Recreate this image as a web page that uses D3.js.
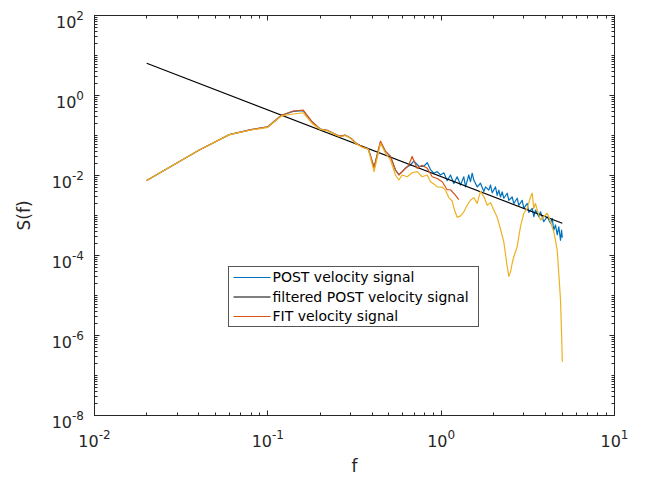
<!DOCTYPE html>
<html lang="en">
<head>
<meta charset="UTF-8">
<script src="https://d3js.org/d3.v7.min.js"></script>
<title>S(f)</title>
<style>
  body { margin: 0; background: #fff; }
  svg { display: block; font-family: "DejaVu Sans", sans-serif; }
</style>
</head>
<body>
<div id="chart"></div>
<script>
// [f, S(f)] pairs
const postSignal = [
  [0.02, 7.5e-3], [0.04, 4.3e-2], [0.06, 0.105], [0.08, 0.14], [0.10, 0.165],
  [0.12, 0.32], [0.14, 0.40], [0.16, 0.42], [0.18, 0.22], [0.20, 0.145],
  [0.22, 0.135], [0.24, 0.112], [0.26, 0.095], [0.28, 0.102], [0.30, 0.087],
  [0.32, 0.066], [0.35, 0.052], [0.38, 0.046], [0.41, 0.016], [0.447, 0.07],
  [0.477, 0.04], [0.51, 0.03], [0.545, 0.0137], [0.57, 0.0105], [0.596, 0.0125],
  [0.623, 0.0155], [0.665, 0.0183], [0.695, 0.023], [0.743, 0.017], [0.794, 0.017],
  [0.831, 0.021], [0.868, 0.014], [0.907, 0.0114], [0.949, 0.0125], [0.991, 0.0103],
  [1.036, 0.0117], [1.083, 0.0074], [1.132, 0.0103], [1.183, 0.0063], [1.237, 0.0093],
  [1.293, 0.0058], [1.351, 0.0093], [1.382, 0.0052], [1.443, 0.0103], [1.476, 0.0070],
  [1.51, 0.0114], [1.543, 0.0077], [1.614, 0.0052], [1.686, 0.0064], [1.762, 0.0040],
  [1.803, 0.0052], [1.883, 0.0043], [1.926, 0.0058], [1.97, 0.0037], [2.058, 0.0052],
  [2.105, 0.0032], [2.15, 0.0043], [2.199, 0.0029], [2.249, 0.0039], [2.298, 0.0027],
  [2.404, 0.0036], [2.456, 0.0024], [2.569, 0.0029], [2.624, 0.0020], [2.746, 0.0027],
  [2.805, 0.0018], [2.935, 0.0024], [2.997, 0.0015], [3.135, 0.0020], [3.203, 0.0012],
  [3.351, 0.0015], [3.423, 9.3e-4], [3.501, 1.37e-3], [3.658, 9.3e-4], [3.742, 1.24e-3],
  [3.909, 7.0e-4], [4.09, 9.3e-4], [4.273, 6.4e-4], [4.371, 8.5e-4], [4.465, 4.3e-4],
  [4.567, 5.8e-4], [4.671, 3.3e-4], [4.771, 5.2e-4], [4.881, 2.4e-4], [4.95, 4.3e-4],
  [5.0, 2.8e-4]
];

const filteredSignal = [[0.02, 6.4], [5.0, 6.4e-4]];

const fitSignal = [
  [0.02, 7.5e-3], [0.04, 4.3e-2], [0.06, 0.105], [0.08, 0.14], [0.10, 0.165],
  [0.12, 0.32], [0.14, 0.41], [0.16, 0.43], [0.18, 0.22], [0.20, 0.145],
  [0.22, 0.135], [0.24, 0.112], [0.26, 0.095], [0.28, 0.102], [0.30, 0.087],
  [0.32, 0.066], [0.35, 0.052], [0.38, 0.046], [0.41, 0.016], [0.447, 0.072],
  [0.477, 0.040], [0.51, 0.030], [0.545, 0.0137], [0.57, 0.0103], [0.609, 0.0137],
  [0.65, 0.018], [0.68, 0.030], [0.727, 0.0151], [0.777, 0.018], [0.831, 0.0151],
  [0.888, 0.0093], [0.949, 0.0084], [1.014, 0.0070], [1.083, 0.0044], [1.132, 0.0044],
  [1.21, 0.0032], [1.264, 0.0025]
];

// yellow trace, drawn but not listed in the legend
const extraSignal = [
  [0.02, 7.5e-3], [0.04, 4.3e-2], [0.06, 0.105], [0.08, 0.137], [0.10, 0.16],
  [0.12, 0.31], [0.14, 0.345], [0.16, 0.37], [0.18, 0.20], [0.20, 0.143],
  [0.22, 0.132], [0.24, 0.11], [0.26, 0.093], [0.28, 0.10], [0.30, 0.085],
  [0.32, 0.064], [0.35, 0.051], [0.38, 0.045], [0.41, 0.0125], [0.447, 0.064],
  [0.477, 0.036], [0.51, 0.0244], [0.545, 0.0103], [0.57, 0.0077], [0.596, 0.0103],
  [0.637, 0.0093], [0.68, 0.0117], [0.727, 0.0125], [0.777, 0.0093], [0.831, 0.0103],
  [0.868, 0.0070], [0.907, 0.0061], [0.949, 0.0052], [1.014, 0.0051], [1.059, 0.0043],
  [1.107, 0.0028], [1.158, 0.0023], [1.194, 0.00137], [1.237, 9.0e-4], [1.293, 9.8e-4],
  [1.351, 0.00124], [1.413, 0.0018], [1.476, 0.0024], [1.543, 0.0028], [1.614, 0.0020],
  [1.686, 0.0040], [1.762, 0.0030], [1.844, 0.0018], [1.926, 0.0021], [2.012, 0.00137],
  [2.105, 9.0e-4], [2.199, 4.6e-4], [2.298, 2.2e-4], [2.35, 1.1e-4], [2.404, 5.3e-5],
  [2.456, 3.0e-5], [2.512, 3.9e-5], [2.569, 6.4e-5], [2.624, 9.3e-5], [2.746, 1.66e-4],
  [2.805, 3.0e-4], [2.869, 5.3e-4], [2.997, 1.14e-3], [3.135, 1.5e-3], [3.276, 2.9e-3],
  [3.351, 3.6e-3], [3.423, 1.5e-3], [3.501, 2.0e-3], [3.581, 1.37e-3], [3.742, 7.7e-4],
  [3.909, 9.3e-4], [4.09, 1.14e-3], [4.273, 7.0e-4], [4.465, 3.9e-4], [4.567, 2.4e-4],
  [4.671, 1.37e-4], [4.771, 3.6e-5], [4.881, 7.7e-6], [4.95, 1.1e-6], [5.0, 2.2e-7]
];

const xTickExps = [-2, -1, 0, 1];
const yTickExps = [2, 0, -2, -4, -6, -8];
const legendLabels = ["POST velocity signal", "filtered POST velocity signal", "FIT velocity signal"];

const width = 646, height = 482;
const plotLeft = 94.5, plotRight = 614.5, plotTop = 15.5, plotBottom = 415.5;
const axisColor = "#262626";

const svg = d3.select("#chart").append("svg")
    .attr("width", width)
    .attr("height", height);

const x = d3.scaleLog().domain([0.01, 10]).range([plotLeft, plotRight]);
const y = d3.scaleLog().domain([1e-8, 1e2]).range([plotBottom, plotTop]);

svg.append("defs").append("clipPath").attr("id", "plotClip")
  .append("rect")
    .attr("x", plotLeft).attr("y", plotTop)
    .attr("width", plotRight - plotLeft).attr("height", plotBottom - plotTop);

// data lines
const line = d3.line().x(d => x(d[0])).y(d => y(d[1]));
const series = [
  {data: postSignal, color: "#0072BD"},
  {data: filteredSignal, color: "#000000"},
  {data: fitSignal, color: "#D95319"},
  {data: extraSignal, color: "#EDB120"}
];
svg.append("g").attr("clip-path", "url(#plotClip)")
  .selectAll("path")
  .data(series)
  .enter()
  .append("path")
    .attr("d", d => line(d.data))
    .attr("fill", "none")
    .attr("stroke", d => d.color)
    .attr("stroke-width", 1.2)
    .attr("stroke-linejoin", "round");

// ticks: major at labelled decades, minor at every k*10^n
const xMinor = [];
d3.range(-2, 1).forEach(e => d3.range(2, 10).forEach(k => xMinor.push(k * Math.pow(10, e))));
const xMajor = xTickExps.map(e => Math.pow(10, e));
const yMinor = [];
d3.range(-8, 2).forEach(e => d3.range(1, 10).forEach(k => {
  if (!(k === 1 && e % 2 === 0)) yMinor.push(k * Math.pow(10, e));
}));
const yMajor = yTickExps.map(e => Math.pow(10, e));

const ticks = svg.append("g").attr("stroke", axisColor).attr("stroke-width", 1);
function xTicks(vals, len) {
  vals.forEach(v => {
    const px = Math.round(x(v) - 0.5) + 0.5;
    ticks.append("line").attr("x1", px).attr("x2", px).attr("y1", plotBottom).attr("y2", plotBottom - len);
    ticks.append("line").attr("x1", px).attr("x2", px).attr("y1", plotTop).attr("y2", plotTop + len);
  });
}
function yTicks(vals, len) {
  vals.forEach(v => {
    const py = Math.round(y(v) - 0.5) + 0.5;
    ticks.append("line").attr("y1", py).attr("y2", py).attr("x1", plotLeft).attr("x2", plotLeft + len);
    ticks.append("line").attr("y1", py).attr("y2", py).attr("x1", plotRight).attr("x2", plotRight - len);
  });
}
xTicks(xMajor, 5); xTicks(xMinor, 3);
yTicks(yMajor, 5); yTicks(yMinor, 3);

svg.append("rect")
    .attr("x", plotLeft).attr("y", plotTop)
    .attr("width", plotRight - plotLeft).attr("height", plotBottom - plotTop)
    .attr("fill", "none")
    .attr("stroke", axisColor)
    .attr("stroke-width", 1);

// tick labels with superscript exponents
svg.selectAll(".xlab")
  .data(xTickExps)
  .enter()
  .append("text")
    .attr("class", "xlab")
    .attr("x", d => x(Math.pow(10, d)))
    .attr("y", 447)
    .attr("text-anchor", "middle")
    .attr("fill", axisColor)
    .style("font-size", "16px")
    .each(function (d) {
      const t = d3.select(this);
      t.append("tspan").text("10");
      t.append("tspan").attr("dy", -8).style("font-size", "12px").text(d);
    });

svg.selectAll(".ylab")
  .data(yTickExps)
  .enter()
  .append("text")
    .attr("class", "ylab")
    .attr("x", 84)
    .attr("y", d => y(Math.pow(10, d)) + 12)
    .attr("text-anchor", "end")
    .attr("fill", axisColor)
    .style("font-size", "16px")
    .each(function (d) {
      const t = d3.select(this);
      t.append("tspan").text("10");
      t.append("tspan").attr("dy", -8).style("font-size", "12px").text(d);
    });

// axis titles
svg.append("text")
    .attr("x", (plotLeft + plotRight) / 2)
    .attr("y", 472)
    .attr("text-anchor", "middle")
    .attr("fill", axisColor)
    .style("font-size", "17px")
    .text("f");

svg.append("text")
    .attr("transform", `translate(30, ${(plotTop + plotBottom) / 2}) rotate(-90)`)
    .attr("text-anchor", "middle")
    .attr("fill", axisColor)
    .style("font-size", "17px")
    .text("S(f)");

// legend
const legend = svg.append("g").attr("transform", "translate(228.5, 266.5)");
legend.append("rect")
    .attr("width", 250).attr("height", 60)
    .attr("fill", "#fff")
    .attr("stroke", "#555")
    .attr("stroke-width", 1);
legendLabels.forEach((label, i) => {
  const cy = 11 + i * 19.5;
  legend.append("line")
      .attr("x1", 5).attr("x2", 42)
      .attr("y1", cy).attr("y2", cy)
      .attr("stroke", series[i].color)
      .attr("stroke-width", 1.2);
  legend.append("text")
      .attr("x", 44)
      .attr("y", cy)
      .attr("dy", "0.35em")
      .attr("fill", "#000")
      .style("font-size", "14px")
      .text(label);
});
</script>
</body>
</html>
